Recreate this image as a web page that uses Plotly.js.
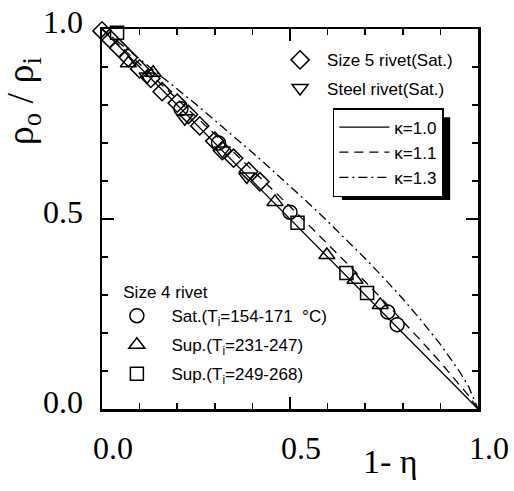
<!DOCTYPE html>
<html>
<head>
<meta charset="utf-8">
<script src="https://cdn.plot.ly/plotly-3.0.1.min.js"></script>
<style>html,body{margin:0;padding:0;background:#fff;}#chart{width:514px;height:491px;}</style>
</head>
<body>
<div id="chart"></div>
<script>
// ---- data ----
const size5_x = [0.0, 0.02, 0.045, 0.07, 0.10, 0.13, 0.16, 0.20, 0.23, 0.26, 0.30, 0.32, 0.35, 0.39, 0.42];
const size5_y = [0.995, 0.975, 0.95, 0.925, 0.895, 0.87, 0.835, 0.805, 0.775, 0.745, 0.705, 0.68, 0.66, 0.625, 0.598];

const steel_x = [0.12, 0.22, 0.32, 0.385];
const steel_y = [0.875, 0.765, 0.68, 0.612];

const sat_x = [0.21, 0.31, 0.50, 0.76, 0.785];
const sat_y = [0.79, 0.70, 0.518, 0.255, 0.222];

const sup1_x = [0.07, 0.136, 0.46, 0.598, 0.673, 0.74];
const sup1_y = [0.91, 0.885, 0.545, 0.405, 0.34, 0.274];

const sup2_x = [0.04, 0.52, 0.65, 0.705];
const sup2_y = [0.99, 0.49, 0.358, 0.305];

const k10_x = [0.0, 1.0];
const k10_y = [1.0, 0.0];

const curve_x = [0, 0.05, 0.10, 0.15, 0.20, 0.25, 0.30, 0.35, 0.40, 0.45, 0.50, 0.55, 0.60, 0.65, 0.70, 0.75, 0.80, 0.85, 0.90, 0.95, 0.975, 1.0];
const k11_y = [1, 0.954, 0.909, 0.863, 0.816, 0.770, 0.723, 0.676, 0.629, 0.581, 0.533, 0.484, 0.435, 0.385, 0.335, 0.284, 0.232, 0.178, 0.123, 0.066, 0.035, 0];
const k13_y = [1, 0.961, 0.922, 0.883, 0.842, 0.802, 0.760, 0.718, 0.675, 0.631, 0.587, 0.541, 0.494, 0.446, 0.396, 0.344, 0.290, 0.232, 0.170, 0.100, 0.059, 0];

const names = {
  size5: 'Size 5 rivet(Sat.)',
  steel: 'Steel rivet(Sat.)',
  sat: 'Sat.(T<sub>i</sub>=154-171  °C)',
  sup1: 'Sup.(T<sub>i</sub>=231-247)',
  sup2: 'Sup.(T<sub>i</sub>=249-268)',
  k10: 'κ=1.0', k11: 'κ=1.1', k13: 'κ=1.3',
  group4: '\u00a0\u00a0\u00a0\u00a0Size 4 rivet'
};
const xTicks = [0, 0.5, 1.0];
const yTicks = [0, 0.5, 1.0];

// ---- styling ----
const mk = (sym, size) => ({symbol: sym, size: size, color: '#000', line: {color: '#000', width: 1.5}});
const lineFont = {family: 'Liberation Sans, Arial, sans-serif', size: 17, color: '#000'};
const serif = 'Liberation Serif, Times New Roman, serif';

const traces = [
  {x: k10_x, y: k10_y, mode: 'lines', name: names.k10, line: {color: '#000', width: 1.3}, legend: 'legend2'},
  {x: curve_x, y: k11_y, mode: 'lines', name: names.k11, line: {color: '#000', width: 1.3, dash: '9px,6px'}, legend: 'legend2'},
  {x: curve_x, y: k13_y, mode: 'lines', name: names.k13, line: {color: '#000', width: 1.3, dash: '9px,4px,2px,4px'}, legend: 'legend2'},
  {x: size5_x, y: size5_y, mode: 'markers', name: names.size5, marker: mk('diamond-open', 14), cliponaxis: false, legend: 'legend', legendgroup: 'a'},
  {x: steel_x, y: steel_y, mode: 'markers', name: names.steel, marker: mk('triangle-down-open', 14), cliponaxis: false, legend: 'legend', legendgroup: 'b'},
  {x: sat_x, y: sat_y, mode: 'markers', name: names.sat, marker: mk('circle-open', 14), cliponaxis: false, legend: 'legend3', legendgroup: 'c'},
  {x: sup1_x, y: sup1_y, mode: 'markers', name: names.sup1, marker: mk('triangle-up-open', 14), cliponaxis: false, legend: 'legend3', legendgroup: 'd'},
  {x: sup2_x, y: sup2_y, mode: 'markers', name: names.sup2, marker: mk('square-open', 13), cliponaxis: false, legend: 'legend3', legendgroup: 'e'}
];

const axisCommon = {
  range: [0, 1], showgrid: false, zeroline: false,
  showline: true, linecolor: '#000', linewidth: 2.5, mirror: 'ticks',
  ticks: 'inside', ticklen: 12, tickwidth: 2, tickcolor: '#000',
  tickmode: 'array', tickformat: '.1f',
  tickfont: {family: serif, size: 32, color: '#000'},
  minor: {dtick: 0.1, ticks: 'inside', ticklen: 6, tickwidth: 1.5, tickcolor: '#000'},
  fixedrange: true
};

const layout = {
  width: 514, height: 491,
  margin: {l: 102, r: 36, t: 29, b: 82, pad: 0},
  paper_bgcolor: '#fff', plot_bgcolor: '#fff',
  xaxis: Object.assign({}, axisCommon, {tickvals: xTicks, ticklabelshift: 11, ticklabelstandoff: 9}),
  yaxis: Object.assign({}, axisCommon, {tickvals: yTicks, ticklabelshift: -7, ticklabelstandoff: 10}),
  showlegend: true,
  legend: {x: 0.455, y: 0.965, xanchor: 'left', yanchor: 'top', bgcolor: 'rgba(0,0,0,0)', borderwidth: 0,
           font: lineFont, traceorder: 'grouped', tracegroupgap: 3, itemwidth: 44, itemclick: false, itemdoubleclick: false},
  legend2: {x: 0.614, y: 0.792, xanchor: 'left', yanchor: 'top', bgcolor: '#fff', bordercolor: '#000', borderwidth: 1.5,
            font: lineFont, traceorder: 'normal', itemwidth: 50, itemclick: false, itemdoubleclick: false},
  legend3: {x: 0.001, y: 0.35, xanchor: 'left', yanchor: 'top', bgcolor: 'rgba(0,0,0,0)', borderwidth: 0,
            font: lineFont, traceorder: 'grouped', tracegroupgap: 4, itemwidth: 59,
            title: {text: names.group4, font: lineFont, side: 'top'},
            itemclick: false, itemdoubleclick: false},
  shapes: [
    {type: 'rect', xref: 'paper', yref: 'paper', x0: 0.638, x1: 0.926, y0: 0.55, y1: 0.768,
     fillcolor: '#000', line: {width: 0}, layer: 'above'}
  ],
  annotations: [
    {text: 'ρ<sub>o</sub> / ρ<sub>i</sub>', xref: 'paper', yref: 'paper', x: -0.21, y: 0.81, showarrow: false,
     xanchor: 'center', yanchor: 'middle',
     textangle: -90, font: {family: serif, size: 38, color: '#000'}},
    {text: '1- η', xref: 'paper', yref: 'paper', x: 0.766, y: -0.137, showarrow: false,
     xanchor: 'center', yanchor: 'middle',
     font: {family: serif, size: 34, color: '#000'}}
  ]
};

Plotly.newPlot('chart', traces, layout, {displayModeBar: false, staticPlot: true});
</script>
</body>
</html>
